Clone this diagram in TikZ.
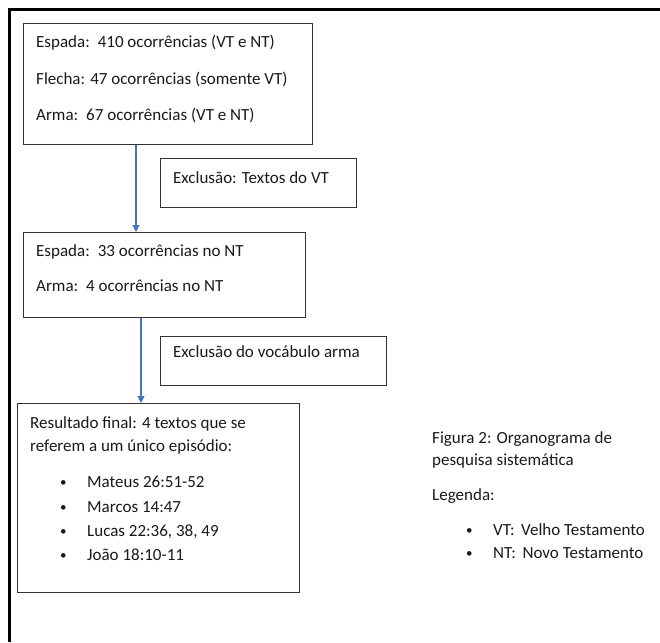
\documentclass[tikz,border=0pt]{standalone}
\usepackage{fontspec}
\setmainfont{Carlito}
\usetikzlibrary{arrows.meta}

\begin{document}
\begin{tikzpicture}[x=1pt,y=-1pt,
        caixa/.style={draw=black!80,line width=1.3pt,minimum width=#1,anchor=north west,inner sep=0pt},
        txt/.style={anchor=base west,inner sep=0pt,text=black!90,font=\fontsize{17}{20}\selectfont},
        bola/.style={txt,font=\fontsize{13}{13}\selectfont},
        seta/.style={draw={rgb,255:red,68;green,114;blue,196},line width=1.2pt,-{Triangle[length=7pt,width=7pt]}}]
        \useasboundingbox (0,0) rectangle (660,642);
        %moldura
        \draw [line width=3pt] (9,642) -- (9,10) -- (660,10);
        %caixas
        \node [caixa=289pt,minimum height=121pt] (ocorr) at (23,23) {};
        \node [caixa=196pt,minimum height=49pt] (excvt) at (160,158) {};
        \node [caixa=282pt,minimum height=85pt] (nt) at (23,232) {};
        \node [caixa=226pt,minimum height=49pt] (excarma) at (160,336) {};
        \node [caixa=282pt,minimum height=189pt] (final) at (17,403) {};
        %textos
        \node [txt] (t1) at (36,48) {Espada:\, 410 ocorrências (VT e NT)};
        \node [txt] (t2) at (36,84) {Flecha: 47 ocorrências (somente VT)};
        \node [txt] (t3) at (36,120) {Arma:\, 67 ocorrências (VT e NT)};
        \node [txt] (t4) at (173,183) {Exclusão: Textos do VT};
        \node [txt] (t5) at (36,256) {Espada:\, 33 ocorrências no NT};
        \node [txt] (t6) at (36,291) {Arma:\, 4 ocorrências no NT};
        \node [txt] (t7) at (173,357) {Exclusão do vocábulo arma};
        \node [txt] (t8) at (30,428) {Resultado final: 4 textos que se};
        \node [txt] (t9) at (30,451) {referem a um único episódio:};
        \foreach \y/\ref [count=\i] in {487/Mateus 26:51-52,512/Marcos 14:47,536/{Lucas 22:36, 38, 49},560/João 18:10-11}{
            \node [bola] (m\i) at (60,\y-1) {\textbullet};
            \node [txt] (r\i) at (87,\y) {\ref};
        }
        %legenda
        \node [txt] (f1) at (432,443) {Figura 2: Organograma de};
        \node [txt] (f2) at (432,465) {pesquisa sistemática};
        \node [txt] (f3) at (432,500) {Legenda:};
        \node [bola] (l1) at (466,534) {\textbullet};
        \node [txt] (v1) at (493,535) {VT:\, Velho Testamento};
        \node [bola] (l2) at (466,557) {\textbullet};
        \node [txt] (v2) at (493,558) {NT:\, Novo Testamento};
        %setas
        \coordinate (s1) at (136,0);
        \coordinate (s2) at (141,0);
        \draw [seta] (ocorr.south -| s1) -- (nt.north -| s1);
        \draw [seta] (nt.south -| s2) -- (final.north -| s2);
\end{tikzpicture}
\end{document}
